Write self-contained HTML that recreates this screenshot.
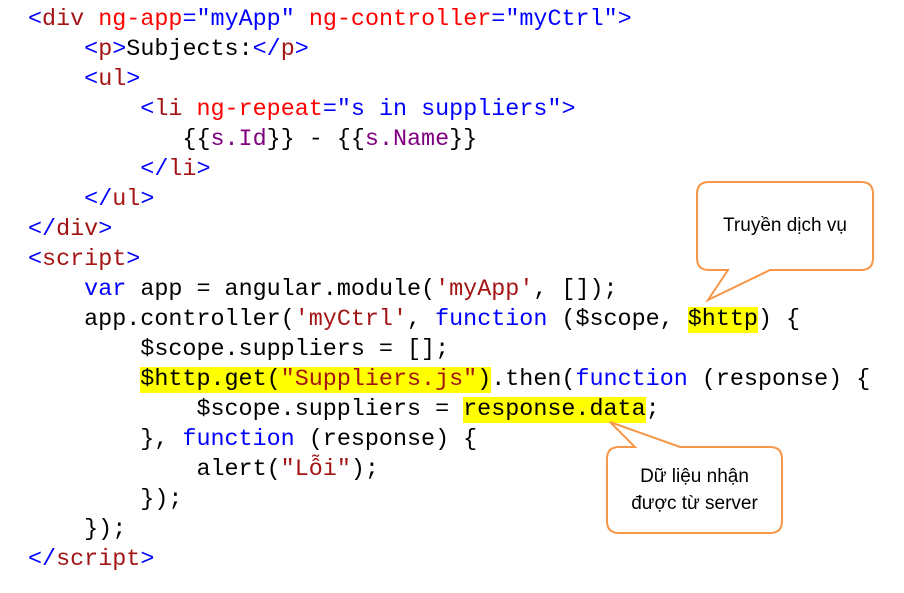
<!DOCTYPE html>
<html><head><meta charset="utf-8"><style>
html,body{margin:0;padding:0;background:#fff;width:904px;height:593px;overflow:hidden}
pre{position:absolute;left:28px;top:5px;margin:0;font-family:"Liberation Mono",monospace;font-size:23.4px;line-height:30px;color:#000}
.t{color:#0000ff}.n{color:#a31515}.a{color:#ff0000}.v{color:#0000ff}.k{color:#0000ff}.s{color:#a31515}.p{color:#800080}
.h{background:#ffff00}
.lbl{position:absolute;font-family:"Liberation Sans",sans-serif;font-size:19px;color:#000;text-align:center;line-height:27px}
</style></head><body>
<pre><span class="t">&lt;</span><span class="n">div</span> <span class="a">ng-app</span><span class="t">=</span><span class="v">"myApp"</span> <span class="a">ng-controller</span><span class="t">=</span><span class="v">"myCtrl"</span><span class="t">&gt;</span>
    <span class="t">&lt;</span><span class="n">p</span><span class="t">&gt;</span>Subjects:<span class="t">&lt;/</span><span class="n">p</span><span class="t">&gt;</span>
    <span class="t">&lt;</span><span class="n">ul</span><span class="t">&gt;</span>
        <span class="t">&lt;</span><span class="n">li</span> <span class="a">ng-repeat</span><span class="t">=</span><span class="v">"s in suppliers"</span><span class="t">&gt;</span>
           {{<span class="p">s.Id</span>}} - {{<span class="p">s.Name</span>}}
        <span class="t">&lt;/</span><span class="n">li</span><span class="t">&gt;</span>
    <span class="t">&lt;/</span><span class="n">ul</span><span class="t">&gt;</span>
<span class="t">&lt;/</span><span class="n">div</span><span class="t">&gt;</span>
<span class="t">&lt;</span><span class="n">script</span><span class="t">&gt;</span>
    <span class="k">var</span> app = angular.module(<span class="s">'myApp'</span>, []);
    app.controller(<span class="s">'myCtrl'</span>, <span class="k">function</span> ($scope, <span class="h">$http</span>) {
        $scope.suppliers = [];
        <span class="h">$http.get(<span class="s">"Suppliers.js"</span>)</span>.then(<span class="k">function</span> (response) {
            $scope.suppliers = <span class="h">response.data</span>;
        }, <span class="k">function</span> (response) {
            alert(<span class="s">"Lỗi"</span>);
        });
    });
<span class="t">&lt;/</span><span class="n">script</span><span class="t">&gt;</span></pre>
<svg width="904" height="593" style="position:absolute;left:0;top:0">
<path d="M709,182 H861 Q873,182 873,194 V258 Q873,270 861,270 H770 L708,300 L728,270 H709 Q697,270 697,258 V194 Q697,182 709,182 Z" fill="#fff" stroke="#f79646" stroke-width="2"/>
<path d="M619,447 H635 L610,422 L680,447 H770 Q782,447 782,459 V521 Q782,533 770,533 H619 Q607,533 607,521 V459 Q607,447 619,447 Z" fill="#fff" stroke="#f79646" stroke-width="2"/>
</svg>
<div class="lbl" style="left:697px;top:212px;width:176px">Truyền dịch vụ</div>
<div class="lbl" style="left:607px;top:463px;width:175px">Dữ liệu nhận<br>được từ server</div>
</body></html>
